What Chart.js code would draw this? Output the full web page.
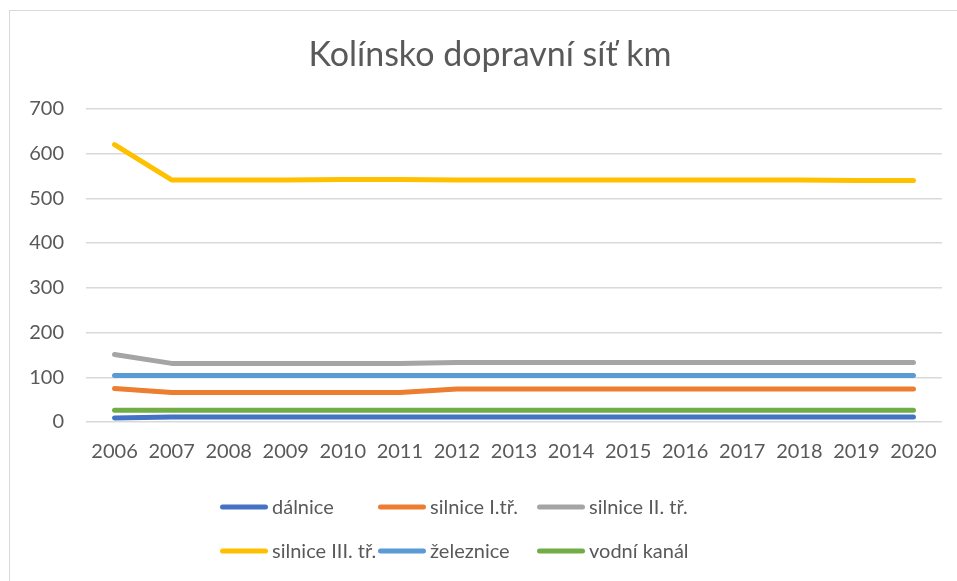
<!DOCTYPE html>
<html>
<head>
<meta charset="utf-8">
<script src="https://cdn.jsdelivr.net/npm/chart.js@4/dist/chart.umd.min.js"></script>
<style>
  html, body { margin: 0; padding: 0; background: #ffffff; overflow: hidden; }
  #wrap { width: 957px; height: 581px; position: relative; }
</style>
</head>
<body>
<div id="wrap"><canvas id="c" width="957" height="581"></canvas></div>
<script>
const years = ["2006","2007","2008","2009","2010","2011","2012","2013","2014","2015","2016","2017","2018","2019","2020"];
const dalnice      = [9, 11, 11, 11, 11, 11, 11, 11, 11, 11, 11, 11, 11, 11, 11];
const silniceI     = [75, 66, 66, 66, 66, 66, 74, 74, 74, 74, 74, 74, 74, 74, 74];
const silniceII    = [151, 131, 131, 131, 131, 131, 133, 133, 133, 133, 133, 133, 133, 133, 133];
const silniceIII   = [620, 541, 541, 541, 542, 542, 541, 541, 541, 541, 541, 541, 541, 540, 540];
const zeleznice    = [104, 104, 104, 104, 104, 104, 104, 104, 104, 104, 104, 104, 104, 104, 104];
const vodniKanal   = [26, 26, 26, 26, 26, 26, 26, 26, 26, 26, 26, 26, 26, 26, 26];
const seriesNames  = ["dálnice", "silnice I.tř.", "silnice II. tř.", "silnice III. tř.", "železnice", "vodní kanál"];
const seriesColors = ["#4472C4", "#ED7D31", "#A5A5A5", "#FFC000", "#5B9BD5", "#70AD47"];
const seriesData   = [dalnice, silniceI, silniceII, silniceIII, zeleznice, vodniKanal];
const yTicks = [0, 100, 200, 300, 400, 500, 600, 700];

const FONT = "Lato, 'Open Sans', sans-serif";
const TEXT = "#595959";

const datasets = seriesNames.map((n, i) => ({
  label: n,
  data: seriesData[i],
  borderColor: seriesColors[i],
  backgroundColor: seriesColors[i],
  borderWidth: 5,
  borderCapStyle: 'round',
  borderJoinStyle: 'round',
  pointRadius: 0,
  pointHoverRadius: 0,
  tension: 0,
  fill: false
}));

const bgPlugin = {
  id: 'bgBorder',
  afterLayout(chart) {
    // centre the title over the (partly cropped) chart frame
    if (chart.titleBlock) { chart.titleBlock.left = 38; }
  },
  beforeDraw(chart) {
    const ctx = chart.ctx;
    ctx.save();
    ctx.fillStyle = '#ffffff';
    ctx.fillRect(0, 0, chart.width, chart.height);
    ctx.strokeStyle = '#d9d9d9';
    ctx.lineWidth = 1;
    ctx.strokeRect(9.5, 10.5, 1000, 1000);
    ctx.restore();
  }
};

const legendPlugin = {
  id: 'gridLegend',
  afterDraw(chart, args, opts) {
    const ctx = chart.ctx;
    ctx.save();
    ctx.font = opts.font;
    ctx.textBaseline = 'middle';
    ctx.textAlign = 'left';
    chart.data.datasets.forEach((ds, i) => {
      const col = i % 3, row = Math.floor(i / 3);
      const x = opts.cols[col], y = opts.rows[row];
      ctx.strokeStyle = ds.borderColor;
      ctx.lineWidth = 5;
      ctx.lineCap = 'round';
      ctx.beginPath();
      ctx.moveTo(x + 2.5, y);
      ctx.lineTo(x + opts.lineLen - 2.5, y);
      ctx.stroke();
      ctx.fillStyle = opts.color;
      ctx.fillText(ds.label, x + opts.lineLen + 4, y + 1);
    });
    ctx.restore();
  }
};

new Chart(document.getElementById('c'), {
  type: 'line',
  data: { labels: years, datasets },
  plugins: [bgPlugin, legendPlugin],
  options: {
    responsive: false,
    animation: false,
    events: [],
    layout: { padding: { left: 0, right: 15, top: 0, bottom: 99 } },
    plugins: {
      legend: { display: false },
      tooltip: { enabled: false },
      title: {
        display: true,
        text: 'Kolínsko dopravní síť km',
        color: TEXT,
        font: { family: FONT, size: 34, weight: '400', lineHeight: 1.2 },
        padding: { top: 35, bottom: 33 }
      },
      gridLegend: {
        font: "20px " + FONT,
        color: TEXT,
        cols: [220, 378, 537],
        rows: [507, 551],
        lineLen: 48
      }
    },
    scales: {
      x: {
        type: 'category',
        offset: true,
        grid: { display: false, drawTicks: false },
        border: { display: false },
        ticks: { color: TEXT, font: { family: FONT, size: 20 }, padding: 18, maxRotation: 0, autoSkip: false },
        afterFit(s) { s.height = 60; }
      },
      y: {
        min: 0, max: 700,
        afterBuildTicks(s) { s.ticks = yTicks.map(v => ({ value: v })); },
        grid: { color: '#d9d9d9', lineWidth: 1.5, drawTicks: false },
        border: { display: false },
        ticks: { color: TEXT, font: { family: FONT, size: 20 }, padding: 22 },
        afterFit(s) { s.width = 86; }
      }
    }
  }
});
</script>
</body>
</html>
